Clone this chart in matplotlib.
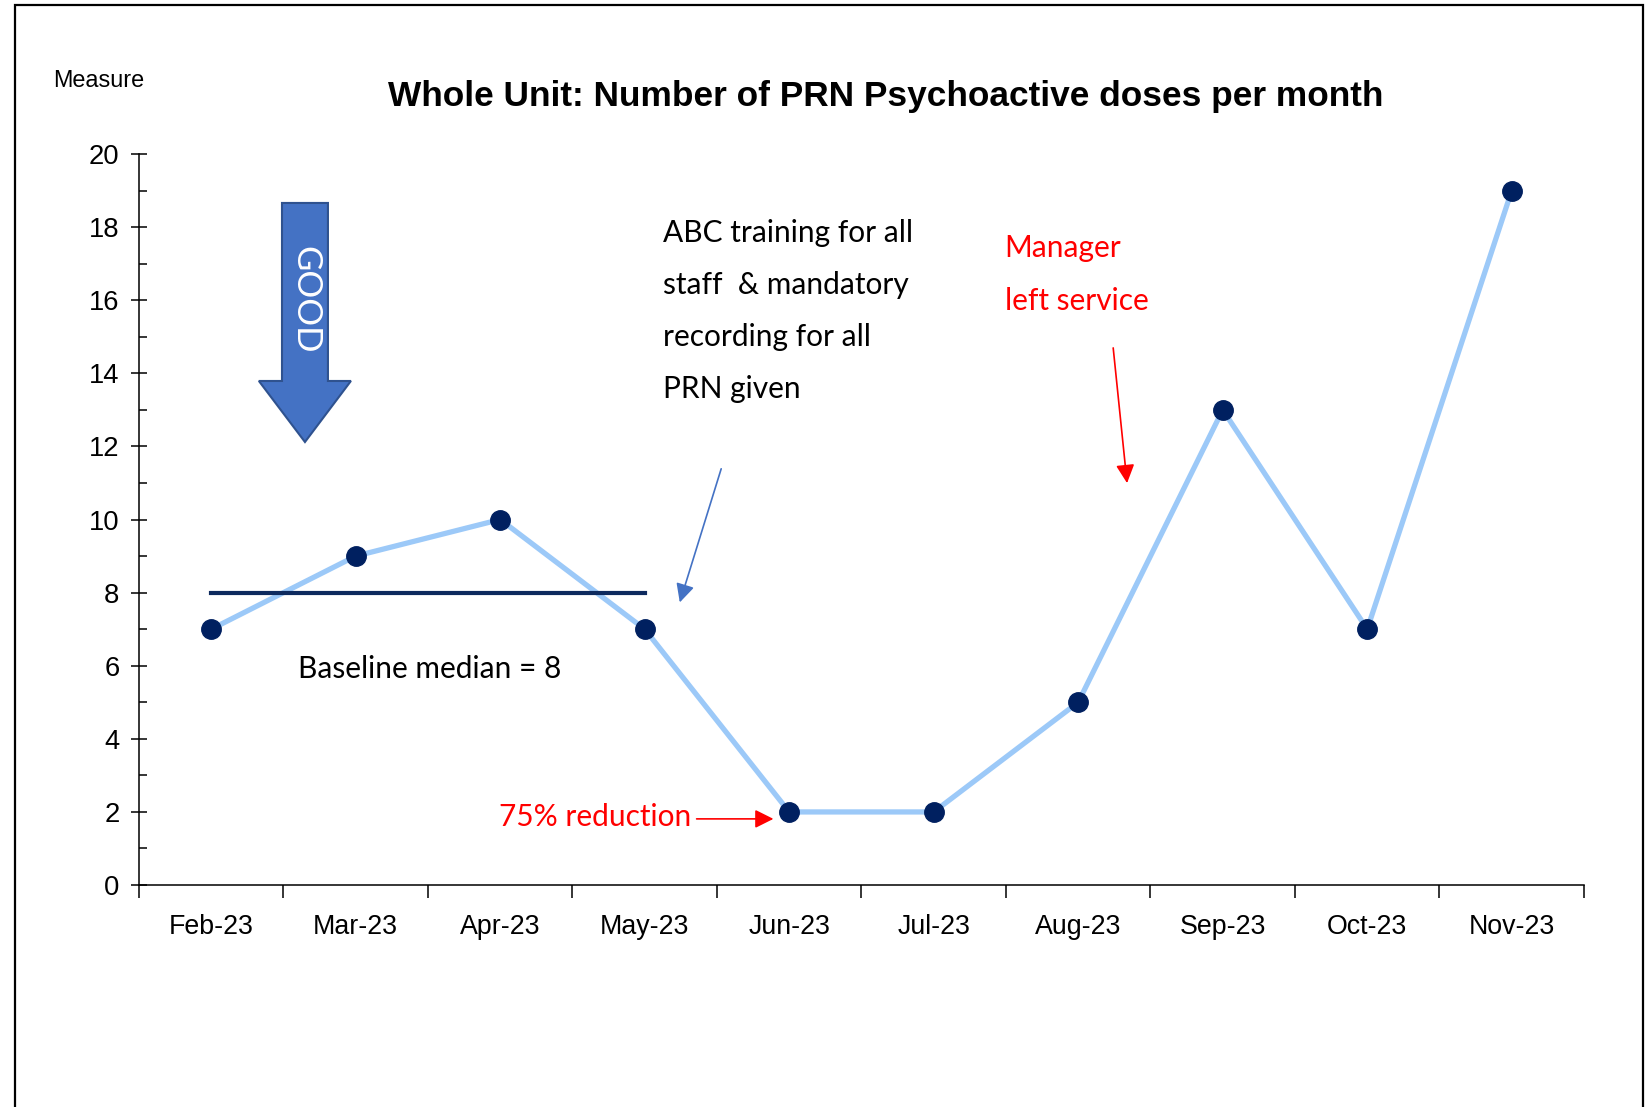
import numpy as np
import matplotlib
matplotlib.use('Agg')
import matplotlib.pyplot as plt
from matplotlib import font_manager
from matplotlib.patches import Polygon, Rectangle

# Data
months = ['Feb-23', 'Mar-23', 'Apr-23', 'May-23', 'Jun-23',
          'Jul-23', 'Aug-23', 'Sep-23', 'Oct-23', 'Nov-23']
doses = [7, 9, 10, 7, 2, 2, 5, 13, 7, 19]
baseline_median = 8
baseline_months = ['Feb-23', 'May-23']

# fonts: narrow Arial look if available
names = {f.name for f in font_manager.fontManager.ttflist}
if 'Liberation Sans Narrow' in names:
    arial, shrink = 'Liberation Sans Narrow', 1.0
else:
    arial, shrink = 'Liberation Sans', 0.82
body = 'Lato'

x = np.arange(len(months))
bx = [months.index(m) for m in baseline_months]

fig = plt.figure(figsize=(16.5, 11.07), dpi=100)
ax = fig.add_axes([0.0842, 0.2005, 0.8758, 0.6604])

# outer frame
fig.patches.append(Rectangle((0.009, -0.05), 0.9868, 1.0455, transform=fig.transFigure,
                             fill=False, edgecolor='black', linewidth=1.6))

ax.plot(x, doses, color='#9cc9f8', lw=3.8, zorder=2)
ax.plot(x, doses, 'o', color='#002060', ms=14, zorder=3)
ax.plot(bx, [baseline_median] * 2, color='#0d2a5e', lw=3, zorder=2.5)

ax.set_xlim(-0.5, len(months) - 0.5)
ax.set_ylim(0, 20)
ax.set_yticks(np.arange(0, 21, 2))
ax.set_yticks(np.arange(1, 20, 2), minor=True)
ax.set_xticks(x)
ax.set_xticklabels(months)
ax.set_xticks(np.arange(-0.5, len(months)), minor=True)

ax.tick_params(axis='y', which='major', direction='inout', length=12, width=1.1,
               pad=8, labelsize=24 * shrink)
ax.tick_params(axis='y', which='minor', direction='in', length=6, width=1.1)
ax.tick_params(axis='x', which='major', length=0, pad=21, labelsize=23.5 * shrink)
ax.tick_params(axis='x', which='minor', direction='out', length=9, width=1.1)
for lab in ax.get_xticklabels() + ax.get_yticklabels():
    lab.set_family(arial)

for s in ['top', 'right']:
    ax.spines[s].set_visible(False)
for s in ['left', 'bottom']:
    ax.spines[s].set_linewidth(1.1)

fig.text(0.537, 0.913, 'Whole Unit: Number of PRN Psychoactive doses per month',
         ha='center', va='center', fontsize=31 * shrink, fontweight='bold', family=arial)
fig.text(0.032, 0.927, 'Measure', ha='left', va='center', fontsize=20.5 * shrink, family=arial)

# GOOD block arrow
good = Polygon([(0.49, 18.66), (0.808, 18.66), (0.808, 13.79), (0.967, 13.79),
                (0.649, 12.12), (0.33, 13.79), (0.49, 13.79)],
               closed=True, facecolor='#4472c4', edgecolor='#2f528f', lw=1.5, zorder=4)
ax.add_patch(good)
ax.text(0.649, 16.0, 'GOOD', rotation=-90, ha='center', va='center', color='white',
        fontsize=25, family=body, zorder=5)

ax.text(0.60, 5.9, 'Baseline median = 8', ha='left', va='center', fontsize=21.5, family=body)

ax.text(3.126, 18.22, 'ABC training for all\nstaff  & mandatory\nrecording for all\nPRN given',
        ha='left', va='top', fontsize=21.5, family=body, linespacing=2.05)
ax.annotate('', xy=(3.237, 7.66), xytext=(3.535, 11.46),
            arrowprops=dict(arrowstyle='-|>', color='#4472c4', lw=1.2, mutation_scale=28))

ax.text(5.49, 17.8, 'Manager\nleft service', ha='left', va='top', color='#ff0000',
        fontsize=21.5, family=body, linespacing=2.08)
ax.annotate('', xy=(6.34, 10.92), xytext=(6.24, 14.77),
            arrowprops=dict(arrowstyle='-|>', color='#ff0000', lw=1.2, mutation_scale=28))

ax.text(1.99, 1.86, '75% reduction', ha='left', va='center', color='#ff0000',
        fontsize=21.5, family=body)
ax.annotate('', xy=(3.91, 1.81), xytext=(3.34, 1.81),
            arrowprops=dict(arrowstyle='-|>', color='#ff0000', lw=1.2, mutation_scale=28))

fig.savefig('out.png', dpi=100)
